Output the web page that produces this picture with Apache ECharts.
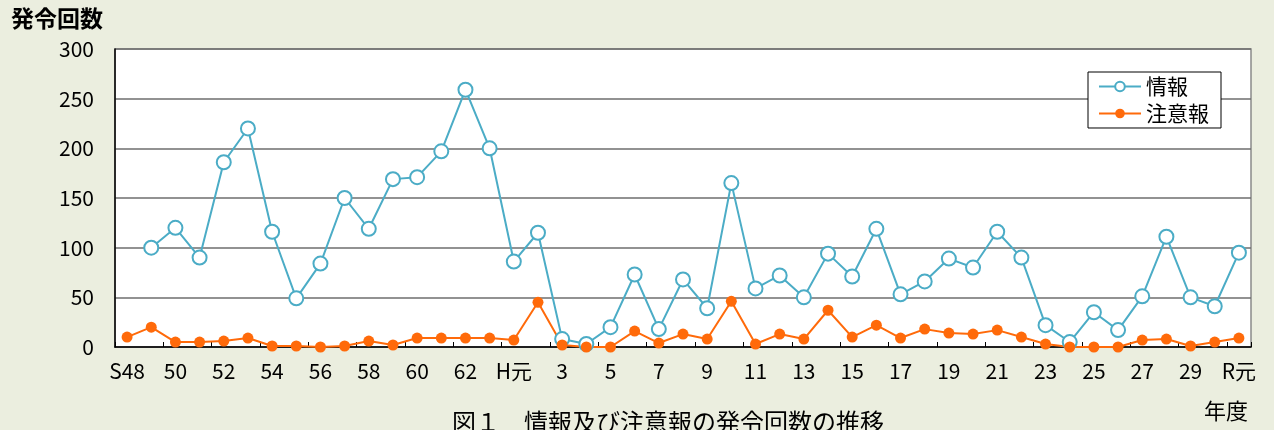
<!DOCTYPE html>
<html>
<head>
<meta charset="utf-8">
<script src="https://cdn.jsdelivr.net/npm/echarts@6/dist/echarts.min.js"></script>
<style>
  html, body { margin: 0; padding: 0; background: #ebeedf; }
  #chart { width: 1274px; height: 430px; }
</style>
</head>
<body>
<div id="chart"></div>
<script>
// 年度: S48..S63, H元..H30, R元
const years = [
  'S48', '49', '50', '51', '52', '53', '54', '55', '56', '57', '58', '59', '60', '61', '62', '63',
  'H元', '2', '3', '4', '5', '6', '7', '8', '9', '10', '11', '12', '13', '14', '15', '16', '17', '18', '19', '20',
  '21', '22', '23', '24', '25', '26', '27', '28', '29', '30', 'R元'
]

const joho = [
  null, 100, 120, 90, 186, 220, 116, 49, 84, 150, 119, 169, 171, 197, 259, 200,
  86, 115, 8, 3, 20, 73, 18, 68, 39, 165, 59, 72, 50, 94, 71, 119, 53, 66, 89, 80,
  116, 90, 22, 5, 35, 17, 51, 111, 50, 41, 95
]

const chuiho = [
  10, 20, 5, 5, 6, 9, 1, 1, 0, 1, 6, 2, 9, 9, 9, 9,
  7, 45, 2, 0, 0, 16, 4, 13, 8, 46, 3, 13, 8, 37, 10, 22, 9, 18, 14, 13,
  17, 10, 3, 0, 0, 0, 7, 8, 1, 5, 9
]

const yTicks = [0, 50, 100, 150, 200, 250, 300]

const blue = '#4bacc6'
const orange = '#ff6a0a'
const font = '"Noto Sans CJK JP", sans-serif'

const chart = echarts.init(document.getElementById('chart'))
chart.setOption({
  backgroundColor: '#ebeedf',
  animation: false,
  grid: {
    left: 115, right: 23, top: 49, bottom: 83,
    show: true, backgroundColor: '#fff', borderColor: '#8a8a8a', borderWidth: 1.5
  },
  legend: {
    right: 53, top: 72,
    orient: 'vertical',
    itemGap: 6,
    itemWidth: 42, itemHeight: 12,
    padding: [4, 12, 4, 10],
    backgroundColor: '#fff',
    borderColor: '#000', borderWidth: 1,
    textStyle: { fontFamily: font, fontSize: 21, color: '#000' },
    data: ['情報', '注意報']
  },
  xAxis: {
    type: 'category',
    data: years,
    boundaryGap: true,
    axisLine: { lineStyle: { color: '#000', width: 1.5 } },
    axisTick: { show: true, inside: true, length: 5, lineStyle: { color: '#000' } },
    axisLabel: {
      interval: 1, margin: 14, color: '#000', fontSize: 21, fontFamily: font
    }
  },
  yAxis: {
    type: 'value',
    min: yTicks[0], max: yTicks[yTicks.length - 1], interval: 50,
    axisLine: { show: true, lineStyle: { color: '#000', width: 1.5 } },
    axisTick: { show: false },
    axisLabel: { margin: 21, color: '#000', fontSize: 21, fontFamily: font },
    splitLine: { lineStyle: { color: '#6e6e6e', width: 1.5 } }
  },
  series: [
    {
      name: '情報',
      type: 'line',
      data: joho,
      connectNulls: false,
      symbol: 'circle',
      symbolSize: 14,
      lineStyle: { color: blue, width: 2 },
      itemStyle: { color: '#fff', borderColor: blue, borderWidth: 2 }
    },
    {
      name: '注意報',
      type: 'line',
      data: chuiho,
      symbol: 'circle',
      symbolSize: 11,
      lineStyle: { color: orange, width: 2 },
      itemStyle: { color: orange }
    }
  ],
  graphic: [
    {
      type: 'text', left: 11, top: 7,
      style: { text: '発令回数', font: 'bold 23px ' + font, fill: '#000' }
    },
    {
      type: 'text', left: 1204, top: 400,
      style: { text: '年度', font: '22px ' + font, fill: '#000' }
    },
    {
      type: 'text', left: 452, top: 410,
      style: { text: '図１　情報及び注意報の発令回数の推移', font: '24px ' + font, fill: '#000' }
    }
  ]
})
</script>
</body>
</html>
